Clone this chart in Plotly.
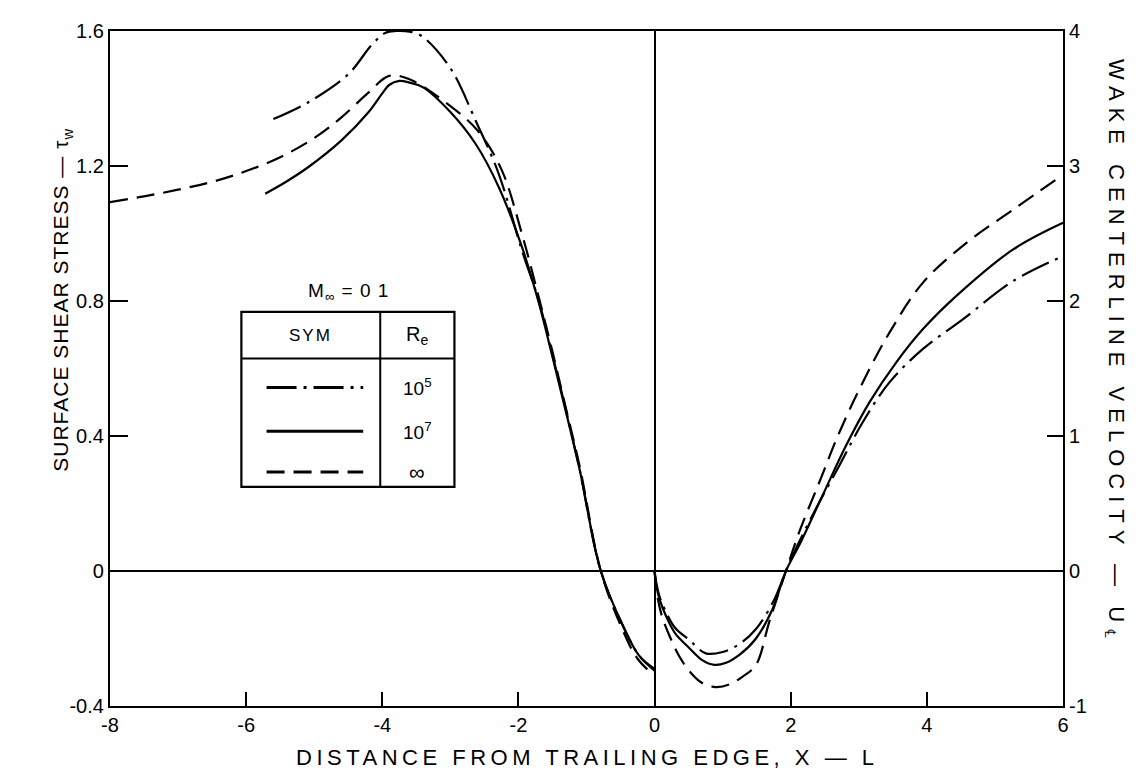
import plotly.graph_objects as go

# surface shear stress, x < 0 (left axis)
x_surf_inf = [-8, -7.5, -7, -6.5, -6, -5.5, -5, -4.6, -4.2, -3.9, -3.6, -3.1, -2.6, -2.25,
              -1.95, -1.7, -1.5, -1.3, -1.1, -0.79, -0.5, -0.25, 0]
tau_inf = [1.093, 1.11, 1.13, 1.153, 1.185, 1.226, 1.283, 1.344, 1.418, 1.467, 1.457, 1.393,
           1.305, 1.19, 1.0, 0.81, 0.65, 0.48, 0.31, 0.0, -0.16, -0.26, -0.31]

x_surf_re7 = [-5.72, -5.4, -5.085, -4.6, -4.2, -4.0, -3.9, -3.75, -3.6, -3.4, -3.0, -2.63,
              -2.29, -1.95, -1.7, -1.5, -1.3, -1.1, -0.79, -0.47, -0.23, 0]
tau_re7 = [1.118, 1.155, 1.197, 1.276, 1.36, 1.415, 1.44, 1.452, 1.447, 1.433, 1.36, 1.266,
           1.138, 0.961, 0.794, 0.635, 0.47, 0.30, 0.0, -0.16, -0.25, -0.29]

x_surf_re5 = [-5.6, -5.085, -4.5, -4.15, -3.95, -3.8, -3.6, -3.42, -3.0, -2.63, -2.29,
              -1.95, -1.7, -1.5, -1.3, -1.1, -0.79, -0.47, -0.23, 0]
tau_re5 = [1.339, 1.389, 1.472, 1.56, 1.595, 1.6, 1.598, 1.585, 1.49, 1.335, 1.177,
           0.951, 0.80, 0.64, 0.475, 0.30, 0.0, -0.16, -0.25, -0.295]

# wake centerline velocity, x > 0 (right axis)
x_wake_inf = [0, 0.03, 0.1, 0.214, 0.35, 0.509, 0.7, 0.9, 1.1, 1.3, 1.49, 1.686, 1.93, 2.128,
              2.423, 2.717, 3.06, 3.453, 3.943, 4.582, 5.268, 6]
u_inf = [0, -0.15, -0.32, -0.474, -0.62, -0.74, -0.83, -0.86, -0.84, -0.78, -0.695, -0.375,
         0.0, 0.293, 0.661, 1.03, 1.399, 1.768, 2.136, 2.431, 2.677, 2.935]

x_wake_re7 = [0, 0.03, 0.08, 0.165, 0.3, 0.509, 0.7, 0.876, 1.05, 1.25, 1.49, 1.735, 1.93,
              2.128, 2.471, 2.815, 3.158, 3.551, 3.943, 4.434, 5.268, 6]
u_re7 = [0, -0.12, -0.22, -0.33, -0.46, -0.57, -0.66, -0.695, -0.68, -0.62, -0.5, -0.28, 0.0,
         0.194, 0.563, 0.931, 1.251, 1.546, 1.792, 2.038, 2.382, 2.579]

x_wake_re5 = [0, 0.03, 0.08, 0.165, 0.3, 0.509, 0.753, 1.0, 1.25, 1.49, 1.75, 1.93, 2.08,
              2.374, 2.717, 3.06, 3.453, 3.943, 4.533, 5.268, 6]
u_re5 = [0, -0.1, -0.2, -0.3, -0.42, -0.51, -0.61, -0.6, -0.54, -0.43, -0.22, 0.0, 0.17,
         0.465, 0.784, 1.104, 1.399, 1.645, 1.866, 2.148, 2.333]

x_ticks = [-8, -6, -4, -2, 0, 2, 4, 6]
tau_ticks = [-0.4, 0, 0.4, 0.8, 1.2, 1.6]
u_ticks = [-1, 0, 1, 2, 3, 4]

re_labels = ['10<sup>5</sup>', '10<sup>7</sup>', '∞']

FONT = 'Liberation Sans, Arial, sans-serif'
DASHDOT = '30px,7px,3px,7px'
DASH = '18px,9px'
styles = {'re5': DASHDOT, 're7': 'solid', 'inf': DASH}


def spaced(text, px):
    # the original lettering is widely tracked
    return '<span style="letter-spacing:%spx">%s</span>' % (px, text)


fig = go.Figure()

for xs, ys, key in [(x_surf_re5, tau_re5, 're5'), (x_surf_re7, tau_re7, 're7'),
                    (x_surf_inf, tau_inf, 'inf')]:
    fig.add_trace(go.Scatter(x=xs, y=ys, mode='lines', line_shape='spline',
                             line=dict(color='black', width=2.2, dash=styles[key]),
                             showlegend=False, hoverinfo='skip'))

for xs, ys, key in [(x_wake_re5, u_re5, 're5'), (x_wake_re7, u_re7, 're7'),
                    (x_wake_inf, u_inf, 'inf')]:
    fig.add_trace(go.Scatter(x=xs, y=ys, mode='lines', line_shape='spline', yaxis='y2',
                             line=dict(color='black', width=2.2, dash=styles[key]),
                             showlegend=False, hoverinfo='skip'))

# legend table drawn by hand (data coords of the left axis)
box_x0, box_x1, box_div = -6.07, -2.94, -4.03
box_y0, box_y1, box_head = 0.249, 0.768, 0.63
sample_y = [0.544, 0.414, 0.293]

shapes = [
    dict(type='rect', x0=box_x0, x1=box_x1, y0=box_y0, y1=box_y1,
         line=dict(color='black', width=2.2)),
    dict(type='line', x0=box_x0, x1=box_x1, y0=box_head, y1=box_head,
         line=dict(color='black', width=2)),
    dict(type='line', x0=box_div, x1=box_div, y0=box_y0, y1=box_y1,
         line=dict(color='black', width=2)),
]
for sy, key in zip(sample_y, ['re5', 're7', 'inf']):
    shapes.append(dict(type='line', x0=-5.70, x1=-4.28, y0=sy, y1=sy,
                       line=dict(color='black', width=3, dash=styles[key])))

annotations = [
    dict(x=-4.5, y=0.827, text=spaced('M<sub>∞</sub> = 0 1', 1), showarrow=False,
         font=dict(size=19)),
    dict(x=(box_x0 + box_div) / 2, y=0.697, text=spaced('SYM', 2), showarrow=False,
         font=dict(size=17)),
    dict(x=(box_div + box_x1) / 2, y=0.697, text='R<sub>e</sub>', showarrow=False,
         font=dict(size=20)),
]
for sy, lab in zip(sample_y, re_labels):
    annotations.append(dict(x=(box_div + box_x1) / 2, y=sy, text=lab, showarrow=False,
                            font=dict(size=22 if lab == '∞' else 19)))

annotations += [
    dict(xref='paper', yref='paper', x=-0.066, y=0.602, textangle=-90,
         text=spaced('SURFACE SHEAR STRESS — τ<sub>w</sub>', 1), showarrow=False,
         font=dict(size=21)),
    dict(xref='paper', yref='paper', x=1.072, y=0.525, textangle=90,
         text=spaced('WAKE CENTERLINE VELOCITY — U<sub>℄</sub>', 7), showarrow=False,
         font=dict(size=22)),
    dict(xref='paper', yref='paper', x=0.5, y=-0.077, yanchor='middle',
         text=spaced('DISTANCE FROM TRAILING EDGE, X — L', 4.5), showarrow=False,
         font=dict(size=22)),
]

axis_common = dict(showline=True, linecolor='black', linewidth=2.2, ticks='inside',
                   tickcolor='black', tickwidth=2, showgrid=False,
                   tickfont=dict(size=20, color='black'))

fig.update_layout(
    width=1144, height=774,
    margin=dict(l=102, r=89, t=20, b=76),
    paper_bgcolor='white', plot_bgcolor='white',
    font=dict(family=FONT, color='black'),
    xaxis=dict(range=[-8, 6], tickvals=x_ticks, ticktext=['%g' % v for v in x_ticks],
               ticklen=14, mirror=True,
               zeroline=True, zerolinecolor='black', zerolinewidth=1.6,
               **axis_common),
    yaxis=dict(range=[-0.4, 1.6], tickvals=tau_ticks, ticktext=['%g' % v for v in tau_ticks],
               ticklen=18, mirror=True, zeroline=True, zerolinecolor='black',
               zerolinewidth=1.6, **axis_common),
    yaxis2=dict(range=[-1, 4], tickvals=u_ticks, ticktext=['%g' % v for v in u_ticks],
                ticklen=16, overlaying='y', side='right', zeroline=False, **axis_common),
    shapes=shapes,
    annotations=annotations,
)

fig.write_html('out.html')
